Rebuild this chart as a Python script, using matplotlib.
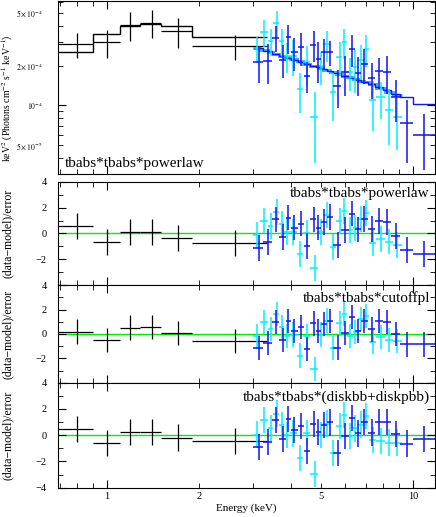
import numpy as np
import matplotlib.pyplot as plt
from matplotlib.ticker import NullFormatter

plt.rcParams['font.family'] = ['Liberation Serif', 'DejaVu Serif']
plt.rcParams['mathtext.fontset'] = 'stix'

SCALE = 1e-4  # flux values below are in units of 1e-4

# black: low-energy spectrum
blk_edges = [0.65, 0.90, 1.10, 1.28, 1.50, 1.90, 3.33]
blk_e = [0.80, 1.00, 1.19, 1.40, 1.71, 2.62]
blk_flux = [2.91, 2.99, 4.07, 4.22, 3.66, 2.79]
blk_err = [0.62, 0.70, 1.00, 1.00, 0.95, 0.60]
blk_model = [2.55, 3.46, 3.97, 4.12, 4.00, 3.30]
blk_res_pl = [0.59, -0.65, 0.08, 0.10, -0.36, -0.77]
blk_res_cpl = [0.19, -0.49, 0.52, 0.60, 0.10, -0.55]
blk_res_disk = [0.46, -0.61, 0.23, 0.27, -0.18, -0.43]

# blue spectrum
blue_edges = [3.0, 3.24, 3.46, 3.66, 3.84, 4.0, 4.2, 4.4, 4.62, 4.83, 5.02, 5.24,
              5.5, 5.84, 6.16, 6.48, 6.78, 7.12, 7.54, 8.0, 8.5, 9.1, 10.0, 12.0]
blue_e = [3.13, 3.35, 3.56, 3.75, 3.92, 4.10, 4.30, 4.49, 4.75, 4.91, 5.12, 5.36,
          5.68, 6.00, 6.33, 6.63, 6.93, 7.33, 7.76, 8.25, 8.80, 9.55, 10.9]
blue_flux = [2.13, 2.18, 3.24, 2.22, 3.26, 2.52, 2.75, 1.68, 2.88, 2.24, 2.52, 2.52,
             1.40, 1.78, 2.67, 1.75, 2.06, 1.60, 1.81, 1.80, 1.155, 0.73, 0.595]
blue_err = [0.66, 0.72, 0.72, 0.62, 0.80, 0.70, 0.76, 0.43, 0.77, 0.77, 0.63, 0.55,
            0.45, 0.60, 0.72, 0.58, 0.61, 0.48, 0.47, 0.58, 0.40, 0.36, 0.27]
blue_model = [2.70, 2.56, 2.45, 2.36, 2.29, 2.21, 2.14, 2.06, 1.99, 1.94, 1.88, 1.82,
              1.75, 1.68, 1.61, 1.56, 1.51, 1.45, 1.37, 1.30, 1.22, 1.15, 1.02]
blue_res_pl = [-1.10, -0.65, 1.08, -0.30, 1.23, 0.46, 0.77, -0.98, 1.08, 0.46, 0.90, 1.28,
               -0.90, 0.25, 1.54, 0.31, 1.10, 0.38, 0.97, 0.90, -0.20, -1.30, -1.60]
blue_res_cpl = [-1.17, -0.76, 0.96, -0.49, 1.07, 0.27, 0.60, -1.23, 0.87, 0.27, 0.82, 1.09,
                -1.12, 0.10, 1.42, 0.25, 1.07, 0.38, 1.07, 1.00, 0.00, -0.85, -0.85]
blue_res_disk = [-0.89, -0.51, 1.15, -0.31, 1.22, 0.38, 0.69, -1.22, 0.84, 0.25, 0.76, 0.97,
                 -1.35, -0.08, 1.32, 0.13, 1.02, 0.20, 1.02, 1.02, 0.08, -0.64, -0.30]

# cyan spectrum
cyan_edges = [3.0, 3.17, 3.36, 3.5, 3.66, 3.8, 3.96, 4.17, 4.38, 4.62, 4.9, 5.1,
              5.34, 5.6, 5.88, 6.08, 6.36, 6.62, 6.9, 7.18, 7.6, 8.1, 8.6, 9.2]
cyan_e = [3.09, 3.27, 3.43, 3.59, 3.72, 3.88, 4.06, 4.27, 4.49, 4.78, 5.00, 5.22,
          5.47, 5.77, 5.96, 6.22, 6.49, 6.76, 7.02, 7.39, 7.84, 8.35, 8.89]
cyan_flux = [2.70, 3.56, 3.05, 4.17, 3.05, 2.36, 2.38, 1.32, 2.12, 0.82, 1.98, 2.91,
             1.26, 2.34, 3.00, 1.78, 1.94, 2.21, 2.67, 1.09, 1.155, 0.92, 0.82]
cyan_err = [0.60, 0.82, 0.70, 0.97, 0.72, 0.60, 0.72, 0.45, 0.69, 0.45, 0.55, 0.77,
            0.50, 0.66, 0.75, 0.50, 0.70, 0.66, 0.72, 0.45, 0.36, 0.42, 0.36]
cyan_model = [2.72, 2.61, 2.52, 2.44, 2.37, 2.31, 2.23, 2.15, 2.07, 1.98, 1.91, 1.85,
              1.79, 1.72, 1.68, 1.63, 1.58, 1.54, 1.49, 1.44, 1.36, 1.27, 1.20]
cyan_res_pl = [-0.14, 1.00, 0.56, 1.63, 0.75, 0.08, 0.10, -1.58, 0.05, -2.70, 0.10, 1.40,
               -1.06, 0.98, 1.72, 0.27, 0.44, 1.15, 1.55, -0.72, -0.40, -0.62, -0.88]
cyan_res_cpl = [-0.20, 0.96, 0.41, 1.64, 0.60, -0.14, -0.05, -1.78, -0.14, -2.87, -0.05, 1.10,
                -1.15, 0.87, 1.64, -0.14, 0.14, 1.23, 1.50, -0.68, -0.27, -0.50, -0.60]
cyan_res_disk = [0.05, 1.15, 0.51, 1.65, 0.76, 0.00, 0.13, -1.73, 0.13, -2.95, 0.00, 0.89,
                 -1.35, 0.71, 1.53, -0.05, 0.51, 0.81, 1.45, -0.38, -0.46, -0.56, -0.56]

top_name = 'tbabs*tbabs*powerlaw'
res_names = ['tbabs*tbabs*powerlaw', 'tbabs*tbabs*cutoffpl', 'tbabs*tbabs*(diskbb+diskpbb)']

BLK = 'black'
BLUE = '#1414f0'
CYAN = '#00f0ff'


def xerrs(e, edges):
    e = np.array(e)
    edges = np.array(edges)
    return [e - edges[:-1], edges[1:] - e]


def style_x(ax, labels):
    ax.set_xscale('log')
    ax.set_xlim(0.692, 11.85)
    minor = [0.7, 0.8, 0.9, 2, 3, 4, 5, 6, 7, 8, 9]
    if labels:
        ax.set_xticks([1, 10], ['1', '10'])
        ax.set_xticks(minor, ['' if m not in (2, 5) else str(m) for m in minor], minor=True)
    else:
        ax.set_xticks([1, 10], ['', ''])
        ax.set_xticks(minor, [''] * len(minor), minor=True)
    ax.tick_params(which='both', direction='in', top=True, right=True, labelsize=7.5)
    ax.tick_params(axis='x', which='both', pad=3)
    ax.tick_params(which='major', length=6)
    ax.tick_params(which='minor', length=3.5)


fig = plt.figure(figsize=(4.36, 5.17), dpi=100)
left, width = 0.133, 0.8658

# top: unfolded spectrum
ax0 = fig.add_axes([left, 0.6634, width, 0.3356])
s = SCALE
ax0.errorbar(blk_e, np.array(blk_flux) * s, xerr=xerrs(blk_e, blk_edges),
             yerr=np.array(blk_err) * s, fmt='none', ecolor=BLK, elinewidth=0.9)
ax0.stairs(np.array(blk_model) * s, blk_edges, baseline=None, color=BLK, lw=1.0)
ax0.errorbar(cyan_e, np.array(cyan_flux) * s, xerr=xerrs(cyan_e, cyan_edges),
             yerr=np.array(cyan_err) * s, fmt='none', ecolor=CYAN, elinewidth=1.1)
ax0.errorbar(blue_e, np.array(blue_flux) * s, xerr=xerrs(blue_e, blue_edges),
             yerr=np.array(blue_err) * s, fmt='none', ecolor=BLUE, elinewidth=1.1)
ax0.stairs(np.array(cyan_model) * s, cyan_edges, baseline=None, color='#30b8ff', lw=2.2)
ax0.stairs(np.array(blue_model) * s, blue_edges, baseline=None, color=BLUE, lw=1.0)
ax0.set_yscale('log')
ax0.set_ylim(3.03e-5, 6.2e-4)
ax0.set_yticks([1e-4], [r'$10^{-4}$'])
yminor = [4e-5, 5e-5, 6e-5, 7e-5, 8e-5, 9e-5, 2e-4, 3e-4, 4e-4, 5e-4, 6e-4]
ylab = {5e-5: r'$5\times10^{-5}$', 2e-4: r'$2\times10^{-4}$', 5e-4: r'$5\times10^{-4}$'}
ax0.set_yticks(yminor, [ylab.get(v, '') for v in yminor], minor=True)
style_x(ax0, False)
ax0.tick_params(axis='y', which='both', labelsize=5.5, pad=11)
ax0.set_ylabel(r'keV$^2$ (Photons cm$^{-2}$ s$^{-1}$ keV$^{-1}$)', fontsize=7)
ax0.yaxis.set_label_coords(-0.115, 0.44)
ax0.text(0.019, 0.042, top_name, transform=ax0.transAxes, fontsize=11, va='baseline')

# residual panels
res_boxes = [[left, 0.4482, width, 0.2004],
             [left, 0.2598, width, 0.1884],
             [left, 0.0567, width, 0.2031]]
res_sets = [(blk_res_pl, blue_res_pl, cyan_res_pl),
            (blk_res_cpl, blue_res_cpl, cyan_res_cpl),
            (blk_res_disk, blue_res_disk, cyan_res_disk)]
label_y = [0.855, 0.832, 0.829]

for i, box in enumerate(res_boxes):
    ax = fig.add_axes(box)
    rb, rbl, rc = res_sets[i]
    ax.axhline(0, color='#00ee00', lw=1.0, zorder=1)
    ax.errorbar(blk_e, rb, xerr=xerrs(blk_e, blk_edges), yerr=1,
                fmt='none', ecolor=BLK, elinewidth=0.9)
    ax.errorbar(cyan_e, rc, xerr=xerrs(cyan_e, cyan_edges), yerr=1,
                fmt='none', ecolor=CYAN, elinewidth=1.1)
    ax.errorbar(blue_e, rbl, xerr=xerrs(blue_e, blue_edges), yerr=1,
                fmt='none', ecolor=BLUE, elinewidth=1.1)
    ax.set_ylim(-4, 4)
    last = i == len(res_boxes) - 1
    ax.set_yticks([-4, -2, 0, 2, 4],
                  ['\u22124' if last else '', '\u22122', '0', '2', '4'])
    ax.set_yticks([-3, -1, 1, 3], minor=True)
    ax.yaxis.set_minor_formatter(NullFormatter())
    style_x(ax, last)
    ax.tick_params(axis='y', which='both', pad=8)
    ax.set_ylabel('(data\u2212model)/error', fontsize=8.5)
    ax.yaxis.set_label_coords(-0.118, 0.5)
    ax.text(0.985, label_y[i], res_names[i], transform=ax.transAxes,
            fontsize=11, ha='right', va='baseline', zorder=5)
    if last:
        ax.set_xlabel('Energy (keV)', fontsize=8, labelpad=2)

fig.savefig('out.png', dpi=100)
